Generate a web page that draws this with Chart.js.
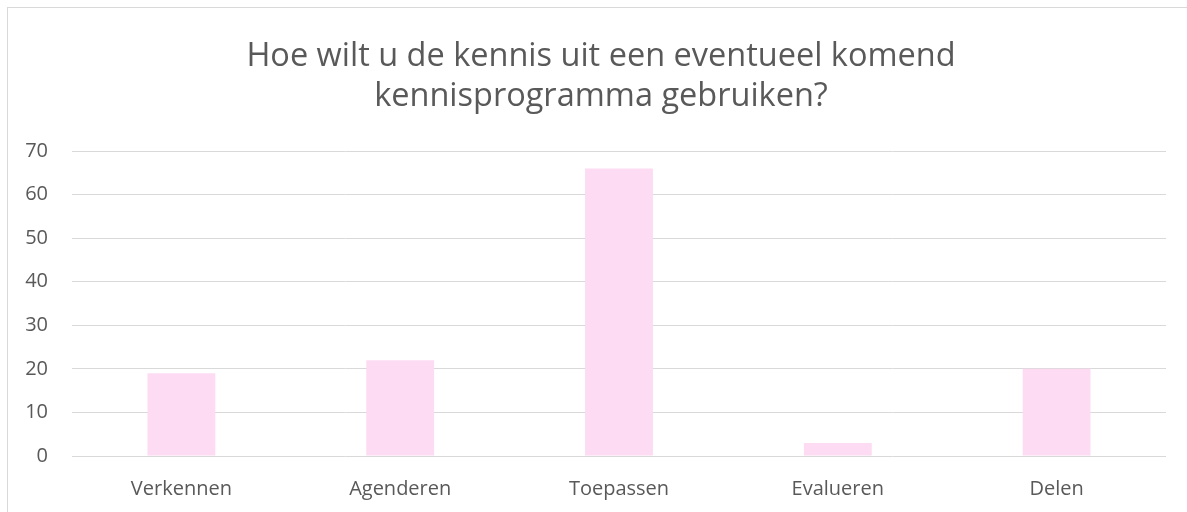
<!DOCTYPE html>
<html>
<head>
<meta charset="utf-8">
<script src="https://cdn.jsdelivr.net/npm/chart.js@4"></script>
<style>
    body { margin: 0; background: #fff; overflow: hidden; }
    #wrap { position: absolute; left: 0; top: 0; width: 1187px; height: 512px; }
    #frame { position: absolute; left: 7px; top: 7px; width: 1200px; height: 520px; border: 1px solid #d9d9d9; box-sizing: border-box; pointer-events: none; }
</style>
</head>
<body>
<div id="wrap"><canvas id="chart"></canvas></div>
<div id="frame"></div>
<script>
const categories = ['Verkennen', 'Agenderen', 'Toepassen', 'Evalueren', 'Delen'];
const values = [19, 22, 66, 3, 20];
const titleLines = ['Hoe wilt u de kennis uit een eventueel komend', 'kennisprogramma gebruiken?'];

const textColor = '#595959';
const fontFamily = '"Open Sans", "Liberation Sans", sans-serif';

// title is drawn by hand so it can sit a bit right of the canvas centre, like the original
const titlePlugin = {
    id: 'titleText',
    afterDraw(chart) {
        const c = chart.ctx;
        c.save();
        c.fillStyle = textColor;
        c.font = '32.5px ' + fontFamily;
        c.textAlign = 'center';
        c.textBaseline = 'middle';
        titleLines.forEach((line, i) => c.fillText(line, 601, 57 + i * 40));
        c.restore();
    }
};

const ctx = document.getElementById('chart').getContext('2d');
new Chart(ctx, {
    type: 'bar',
    data: {
        labels: categories,
        datasets: [{
            data: values,
            backgroundColor: '#fcdbf3',
            borderWidth: 0,
            categoryPercentage: 1,
            barPercentage: 0.31
        }]
    },
    plugins: [titlePlugin],
    options: {
        responsive: true,
        maintainAspectRatio: false,
        animation: false,
        layout: { padding: { left: 0, right: 21, top: 151, bottom: 0 } },
        plugins: {
            legend: { display: false },
            tooltip: { enabled: false },
            title: { display: false }
        },
        scales: {
            x: {
                grid: { display: false, drawTicks: false },
                border: { display: false },
                ticks: { color: textColor, font: { family: fontFamily, size: 20 }, padding: 21 },
                afterFit: scale => { scale.height = 56; }
            },
            y: {
                min: 0,
                max: 70,
                ticks: { stepSize: 10, color: textColor, font: { family: fontFamily, size: 20 }, padding: 24 },
                grid: { color: '#d9d9d9', lineWidth: 1, drawTicks: false },
                border: { display: false },
                afterFit: scale => { scale.width = 72; }
            }
        }
    }
});
</script>
</body>
</html>
